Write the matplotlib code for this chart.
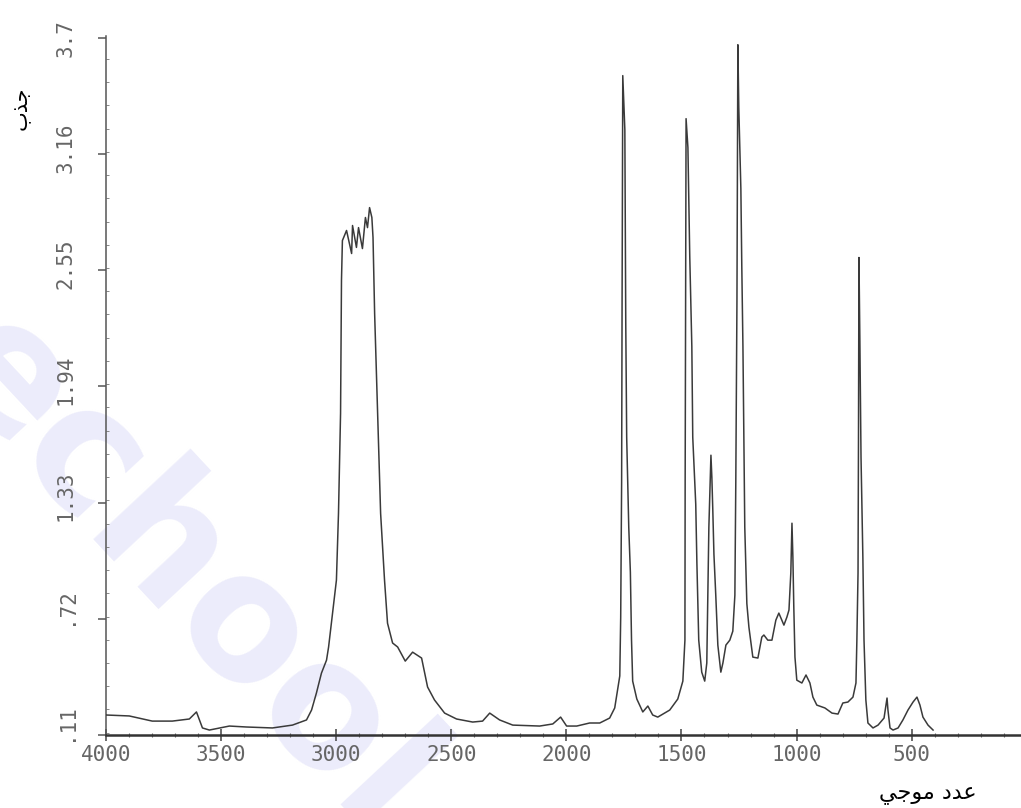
import matplotlib
matplotlib.use("Agg")
import matplotlib.pyplot as plt
from matplotlib.transforms import ScaledTranslation, blended_transform_factory
from matplotlib.ticker import MultipleLocator

# ---- data ----
wavenumber = [4000, 3899, 3799, 3712, 3638, 3607, 3581, 3551, 3464, 3390, 3277, 3190,
              3129, 3107, 3086, 3064, 3042, 3033, 3016, 2999, 2990, 2981, 2977, 2973,
              2955, 2933, 2929, 2912, 2903, 2886, 2873, 2864, 2855, 2845, 2840, 2833,
              2820, 2807, 2790, 2777, 2755, 2733, 2700, 2668, 2629, 2603, 2573, 2529,
              2477, 2407, 2364, 2333, 2290, 2233, 2116, 2059, 2025, 1999, 1955, 1899,
              1855, 1812, 1790, 1768, 1764, 1760, 1758, 1755, 1746, 1742, 1738, 1729,
              1722, 1717, 1712, 1694, 1668, 1646, 1625, 1603, 1551, 1516, 1494, 1485,
              1484, 1482, 1480, 1472, 1464, 1455, 1451, 1438, 1433, 1425, 1412, 1399,
              1390, 1381, 1372, 1368, 1364, 1359, 1351, 1342, 1329, 1320, 1307, 1290,
              1277, 1268, 1264, 1259, 1255, 1251, 1242, 1238, 1233, 1229, 1225, 1216,
              1207, 1190, 1168, 1151, 1142, 1125, 1107, 1090, 1077, 1055, 1042, 1033,
              1025, 1020, 1016, 1012, 1007, 999, 977, 959, 942, 929, 912, 877,
              846, 820, 799, 777, 755, 742, 738, 733, 731, 729, 725, 720,
              712, 707, 699, 690, 668, 646, 620, 607, 603, 594, 581, 559,
              538, 516, 494, 477, 464, 451, 429, 407]

absorbance = [0.215, 0.210, 0.183, 0.183, 0.194, 0.231, 0.147, 0.136, 0.157, 0.152, 0.147, 0.162,
              0.189, 0.241, 0.330, 0.435, 0.503, 0.572, 0.750, 0.923, 1.274, 1.799, 2.497, 2.706,
              2.759, 2.638, 2.785, 2.670, 2.774, 2.664, 2.827, 2.774, 2.879, 2.827, 2.722, 2.323,
              1.799, 1.274, 0.923, 0.697, 0.593, 0.572, 0.498, 0.545, 0.514, 0.362, 0.294, 0.225,
              0.194, 0.178, 0.183, 0.225, 0.189, 0.162, 0.157, 0.168, 0.204, 0.157, 0.157, 0.173,
              0.173, 0.199, 0.252, 0.420, 0.729, 1.437, 2.386, 3.572, 3.288, 2.266, 1.673, 1.201,
              0.965, 0.608, 0.393, 0.299, 0.231, 0.262, 0.215, 0.204, 0.241, 0.299, 0.393, 0.608,
              1.437, 2.386, 3.346, 3.194, 2.622, 2.150, 1.673, 1.322, 1.012, 0.608, 0.440, 0.393,
              0.488, 1.201, 1.579, 1.463, 1.295, 1.059, 0.844, 0.582, 0.440, 0.488, 0.582, 0.608,
              0.655, 0.844, 1.437, 2.386, 3.734, 3.404, 2.979, 2.575, 2.150, 1.673, 1.201, 0.800,
              0.676, 0.519, 0.514, 0.624, 0.635, 0.608, 0.608, 0.713, 0.750, 0.687, 0.729, 0.766,
              0.960, 1.222, 1.044, 0.781, 0.519, 0.398, 0.383, 0.425, 0.383, 0.309, 0.267, 0.252,
              0.225, 0.220, 0.278, 0.283, 0.309, 0.383, 0.608, 0.960, 1.657, 2.617, 2.182, 1.568,
              1.044, 0.608, 0.294, 0.173, 0.147, 0.162, 0.199, 0.304, 0.241, 0.147, 0.136, 0.147,
              0.189, 0.241, 0.283, 0.309, 0.267, 0.204, 0.162, 0.136]

x_ticks = [4000, 3500, 3000, 2500, 2000, 1500, 1000, 500]
x_tick_labels = ["4000", "3500", "3000", "2500", "2000", "1500", "1000", "500"]
y_ticks = [0.11, 0.72, 1.33, 1.94, 2.55, 3.16, 3.77]
y_tick_labels = [".11", ".72", "1.33", "1.94", "2.55", "3.16", "3.7"]

# Arabic labels (presentation forms in visual order so they display joined, right-to-left)
x_label = "\uFEF2\uFE9F\uFEEE\uFEE3 \uFEA9\uFEAA\uFECB"   # عدد موجي
y_label = "\uFE8F\uFEAC\uFE9F"                             # جذب
watermark = "echool"

# ---- figure ----
fig = plt.figure(figsize=(10.21, 8.08), dpi=100)
fig.patch.set_facecolor("white")
ax = fig.add_axes([106 / 1021, 1 - 735 / 808, 1 - 106 / 1021, (735 - 36) / 808])
ax.set_facecolor("none")

# watermark behind everything
ax.text(185 / 1021, 1 - 575 / 808, watermark, rotation=-47, rotation_mode="anchor",
        ha="center", va="center", fontsize=125, fontweight="bold",
        family="DejaVu Sans", color="#ececfb", zorder=0, clip_on=False,
        transform=fig.transFigure)

ax.plot(wavenumber, absorbance, color="#3a3a3a", lw=1.1, zorder=3)

ax.set_xlim(4000, 25)
ax.set_ylim(0.11, 3.78)

for s in ["top", "right"]:
    ax.spines[s].set_visible(False)
ax.spines["left"].set_color("#555555")
ax.spines["left"].set_linewidth(1.1)
ax.spines["bottom"].set_color("#333333")
ax.spines["bottom"].set_linewidth(1.8)

ax.set_xticks(x_ticks)
ax.set_xticklabels(x_tick_labels, family="DejaVu Sans Mono", fontsize=15, color="#666666")
ax.xaxis.set_minor_locator(MultipleLocator(100))
ax.tick_params(axis="x", which="major", direction="inout", length=9, width=1.1,
               color="#444444", pad=3)
ax.tick_params(axis="x", which="minor", direction="inout", length=3, width=0.8,
               color="#666666")

ax.set_yticks(y_ticks)
ax.set_yticklabels([])
ax.yaxis.set_minor_locator(MultipleLocator(0.122))
ax.tick_params(axis="y", which="major", direction="out", length=6, width=1.1,
               color="#555555")
ax.tick_params(axis="y", which="minor", direction="in", length=2, width=0.7,
               color="#888888")

# y tick labels: rotated, decimal point aligned with tick
fs = 15
adv = 0.602 * fs
base = blended_transform_factory(ax.transAxes, ax.transData)
for v, s in zip(y_ticks, y_tick_labels):
    n_int = s.index(".")
    dy = -(n_int + 0.5) * adv
    tr = base + ScaledTranslation(-29 / 72, dy / 72, fig.dpi_scale_trans)
    ax.text(0, v, s, rotation=90, rotation_mode="anchor", ha="left", va="center",
            transform=tr, family="DejaVu Sans Mono", fontsize=fs, color="#666666",
            clip_on=False, zorder=4)

fig.text(928 / 1021, 1 - 795 / 808, x_label, ha="center", va="center",
         fontsize=16, family="DejaVu Sans", color="black")
fig.text(21 / 1021, 1 - 108 / 808, y_label, ha="center", va="center", rotation=90,
         fontsize=15, family="DejaVu Sans", color="black")

fig.savefig("out.png", dpi=100, facecolor="white")
